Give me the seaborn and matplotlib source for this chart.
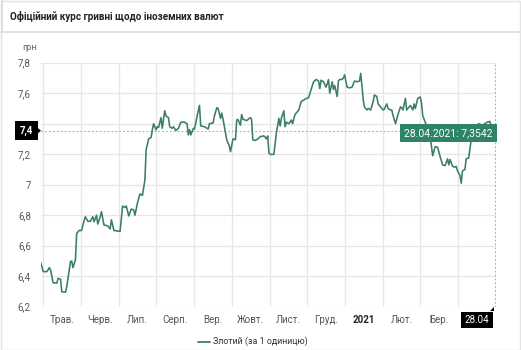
import matplotlib
matplotlib.use("Agg")
import matplotlib.pyplot as plt
import seaborn as sns
import pandas as pd
from matplotlib.patches import Polygon, Rectangle

# ---- data (days since 28.04.2020, zloty rate in UAH) ----
days = [0, 2, 5, 7, 8, 10, 13, 14, 16, 17, 20, 21, 24, 25, 26, 28, 29, 31, 33, 34,
        36, 38, 40, 42, 43, 45, 46, 48, 49, 51, 54, 56, 57, 59, 63, 64, 66, 68, 69, 71,
        73, 75, 76, 78, 80, 82, 84, 85, 87, 89, 90, 91, 93, 94, 95, 97, 98, 100, 101, 103,
        104, 106, 107, 109, 111, 113, 116, 118, 119, 120, 121, 123, 124, 126, 128, 129, 132, 134, 135, 136,
        139, 140, 142, 143, 145, 146, 148, 150, 152, 153, 155, 157, 158, 159, 161, 162, 163, 166, 169, 170,
        171, 173, 175, 177, 180, 182, 183, 184, 186, 188, 190, 192, 193, 194, 196, 197, 198, 200, 202, 203,
        205, 206, 208, 210, 212, 214, 216, 218, 220, 222, 224, 225, 226, 228, 230, 231, 232, 233, 235, 236,
        237, 239, 240, 241, 243, 244, 245, 247, 249, 251, 253, 255, 257, 258, 260, 261, 263, 264, 266, 268,
        269, 271, 272, 273, 276, 277, 279, 280, 282, 283, 284, 286, 288, 290, 291, 292, 294, 295, 296, 298,
        300, 301, 302, 304, 306, 307, 308, 310, 314, 316, 318, 320, 322, 324, 326, 328, 329, 330, 332, 334,
        335, 336, 338, 339, 340, 342, 343, 345, 347, 348, 350, 353, 356, 360, 362, 364, 365]
rates = [6.49, 6.43, 6.43, 6.456, 6.44, 6.357, 6.355, 6.386, 6.38, 6.298, 6.295, 6.331, 6.495, 6.50, 6.456, 6.506, 6.68, 6.70, 6.70, 6.736,
         6.79, 6.76, 6.76, 6.79, 6.757, 6.80, 6.742, 6.79, 6.823, 6.736, 6.73, 6.71, 6.77, 6.70, 6.695, 6.695, 6.86, 6.85, 6.86, 6.795,
         6.84, 6.835, 6.80, 6.88, 6.94, 6.93, 7.03, 7.23, 7.30, 7.31, 7.36, 7.40, 7.36, 7.38, 7.375, 7.44, 7.37, 7.485, 7.45, 7.44,
         7.38, 7.37, 7.38, 7.355, 7.37, 7.41, 7.41, 7.40, 7.326, 7.36, 7.326, 7.37, 7.365, 7.446, 7.52, 7.385, 7.38, 7.37, 7.365, 7.40,
         7.405, 7.45, 7.505, 7.50, 7.435, 7.47, 7.385, 7.293, 7.255, 7.216, 7.30, 7.295, 7.424, 7.428, 7.39, 7.46, 7.43, 7.42, 7.44, 7.43,
         7.293, 7.29, 7.30, 7.315, 7.32, 7.30, 7.32, 7.206, 7.197, 7.20, 7.34, 7.435, 7.385, 7.435, 7.485, 7.38, 7.41, 7.40, 7.424, 7.40,
         7.46, 7.47, 7.49, 7.545, 7.555, 7.565, 7.57, 7.625, 7.675, 7.69, 7.68, 7.63, 7.685, 7.675, 7.64, 7.66, 7.69, 7.60, 7.675, 7.625,
         7.65, 7.578, 7.68, 7.69, 7.69, 7.70, 7.72, 7.64, 7.635, 7.64, 7.68, 7.675, 7.68, 7.73, 7.555, 7.51, 7.49, 7.50, 7.49, 7.545,
         7.588, 7.578, 7.53, 7.52, 7.49, 7.495, 7.53, 7.50, 7.49, 7.49, 7.455, 7.40, 7.46, 7.51, 7.505, 7.49, 7.566, 7.49, 7.50, 7.52,
         7.49, 7.53, 7.50, 7.567, 7.575, 7.534, 7.45, 7.41, 7.315, 7.19, 7.25, 7.245, 7.184, 7.13, 7.125, 7.17, 7.13, 7.165, 7.12, 7.115,
         7.12, 7.09, 7.06, 7.01, 7.09, 7.10, 7.17, 7.175, 7.293, 7.36, 7.38, 7.40, 7.39, 7.41, 7.415, 7.37, 7.3542]

month_labels = ["Трав.", "Черв.", "Лип.", "Серп.", "Вер.", "Жовт.", "Лист.", "Груд.",
                "2021", "Лют.", "Бер.", "28.04"]
y_ticks = [6.2, 6.4, 6.6, 6.8, 7.0, 7.2, 7.4, 7.6, 7.8]

title = "Офіційний курс гривні щодо іноземних валют"
unit = "грн"
series_name = "Злотий (за 1 одиницю)"
last_label = "28.04.2021: 7,3542"
last_value = 7.3542
cross_y_label = "7,4"

df = pd.DataFrame({"day": days, "rate": rates})

# ---- style ----
sns.set_theme(style="white")
plt.rcParams["font.family"] = ["Roboto", "DejaVu Sans"]

W, H = 521, 350
fig = plt.figure(figsize=(W / 100, H / 100), dpi=100)
fig.patch.set_facecolor("white")

def fx(px):
    return px / W

def fy(py):
    return 1 - py / H

LINE = "#3a7f64"
TIP = "#2f8465"

# outer card borders
fig.add_artist(Rectangle((fx(0.5), fy(349.5)), fx(519), (349 - 0.5) / H, transform=fig.transFigure,
                         fill=False, ec="#e4e4e4", lw=1.0))
fig.add_artist(plt.Line2D([fx(1), fx(520)], [fy(32), fy(32)], transform=fig.transFigure, color="#dcdcdc", lw=1.2))
fig.add_artist(plt.Line2D([fx(1.5), fx(1.5)], [fy(0), fy(32)], transform=fig.transFigure, color="#d5e3dc", lw=1.5))

fig.text(fx(10), fy(16), title, fontsize=7.1, fontweight="bold", color="#222222", va="center", ha="left")
fig.text(fx(22), fy(48), unit, fontsize=6.8, color="#666666", va="center", ha="left")

# axes
x_left_px, x_right_px = 40.7, 495.7
y_top_px, y_bot_px = 62.7, 306.7
ax = fig.add_axes([fx(x_left_px), fy(y_bot_px), (x_right_px - x_left_px) / W, (y_bot_px - y_top_px) / H])
px_per_day = 1.2405
ax.set_xlim(0, (x_right_px - x_left_px) / px_per_day)
ax.set_ylim(6.2, 7.8)

grid0 = (43.3 - x_left_px) / px_per_day
step = 37.7 / px_per_day
grid_pos = [grid0 + k * step for k in range(13)]
label_pos = [grid0 + (k + 0.5) * step for k in range(12)]

for g in grid_pos:
    ax.axvline(g, color="#e6e6e6", lw=0.9, zorder=0)
ax.set_yticks(y_ticks)
ax.yaxis.grid(True, color="#e6e6e6", lw=0.9)
ax.set_axisbelow(True)
# the 7,4 tick is covered by the crosshair label in the reference
ylabels = [("" if abs(v - 7.4) < 1e-9 else f"{v:g}".replace(".", ",")) for v in y_ticks]
ax.set_yticklabels(ylabels, fontsize=7, color="#555555")
ax.tick_params(axis="y", length=0, pad=7)
ax.set_xticks(label_pos)
ax.set_xticklabels(month_labels, fontsize=7, color="#555555")
ax.tick_params(axis="x", length=0, pad=6)
for lbl in ax.get_xticklabels():
    if lbl.get_text() == "2021":
        lbl.set_fontweight("bold")
        lbl.set_color("#222222")
    if lbl.get_text() == "28.04":
        lbl.set_color("white")
        lbl.set_bbox(dict(boxstyle="square,pad=0.35", fc="black", ec="none"))
for s in ax.spines.values():
    s.set_visible(False)

sns.lineplot(data=df, x="day", y="rate", ax=ax, color=LINE, linewidth=1.15, label=series_name, legend=False)
ax.set_xlabel("")
ax.set_ylabel("")

# crosshairs
ax.axhline(last_value, color="#aaaaaa", lw=0.8, ls=(0, (1.5, 2)), zorder=1)
ax.axvline(days[-1] + 1.1, color="#aaaaaa", lw=0.8, ls=(0, (1.5, 2)), zorder=1)

# y crosshair label
yl = ax.transData.transform((0, last_value))[1]
ypx = H - yl
fig.text(fx(26.5), fy(ypx), cross_y_label, fontsize=7, color="white", fontweight="bold", ha="center", va="center",
         bbox=dict(boxstyle="square,pad=0.45", fc="black", ec="none"), zorder=10)
fig.add_artist(Polygon([(fx(37.5), fy(ypx - 3)), (fx(41), fy(ypx)), (fx(37.5), fy(ypx + 3))],
                       closed=True, transform=fig.transFigure, fc="black", ec="none", zorder=10))

# x crosshair small notch
fig.add_artist(Polygon([(fx(490), fy(311)), (fx(494), fy(307)), (fx(494), fy(311))],
                       closed=True, transform=fig.transFigure, fc="black", ec="none", zorder=10))

# tooltip
tip_x = ax.transData.transform((days[-1], last_value))
tx_px = tip_x[0]
fig.text(fx(tx_px - 45), fy(ypx + 2.5), last_label, fontsize=7.5, color="white", ha="center", va="center",
         bbox=dict(boxstyle="square,pad=0.4", fc=TIP, ec="none"), zorder=11)
fig.add_artist(Polygon([(fx(tx_px - 3), fy(ypx - 3)), (fx(tx_px + 0.5), fy(ypx)), (fx(tx_px - 3), fy(ypx + 3))],
                       closed=True, transform=fig.transFigure, fc=TIP, ec="none", zorder=11))

# legend
fig.add_artist(plt.Line2D([fx(198), fx(210)], [fy(341.5), fy(341.5)], transform=fig.transFigure, color=LINE, lw=1.3))
fig.text(fx(213), fy(341.5), series_name, fontsize=6.4, color="#333333", ha="left", va="center")

fig.savefig("out.png", dpi=100)
